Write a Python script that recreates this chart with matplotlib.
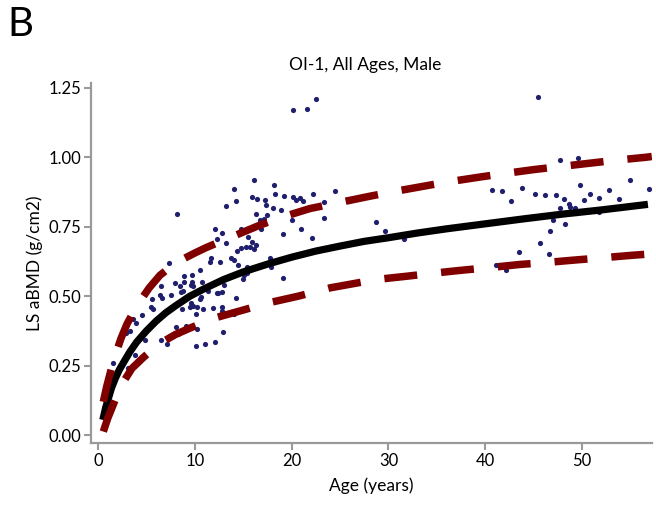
import matplotlib
matplotlib.use("Agg")
import matplotlib.pyplot as plt

plt.rcParams["font.family"] = ["Lato", "DejaVu Sans"]

# ── scatter data (age in years, LS aBMD g/cm2) ──
age = [
    1.6, 3.1, 3.8, 2.9, 3.3, 3.6, 3.9, 4.5, 4.9, 5.5, 5.65, 5.6, 6.4, 6.6, 6.5, 7.1, 6.5, 7.5, 7.3, 8.2,
    8.0, 8.5, 8.6, 8.9, 9.7, 8.9, 9.7, 10.5, 9.6, 10.7, 9.8, 8.8, 11.4, 12.4, 12.8, 13.05, 14.3, 15.0,
    15.1, 15.4, 15.4, 14.5, 11.7, 11.6, 12.6, 13.7, 14.0, 8.7, 9.5, 9.8, 10.2, 10.8, 10.1, 9.6, 10.5,
    10.6, 11.85, 12.8, 12.8, 14.0, 8.1, 9.1, 10.2, 8.3, 10.1, 11.1, 12.1, 12.9, 12.3,
    12.05, 12.8, 12.3, 13.2, 13.2, 14.1, 14.3, 14.8, 15.5, 15.9, 14.4, 14.8, 15.3, 15.7, 16.1, 16.3,
    16.1, 15.9, 16.4, 17.2, 17.4, 16.3, 17.5, 16.7, 17.1, 16.8, 18.2, 18.3, 19.2, 18.1, 18.9, 17.8,
    17.9, 19.1, 19.1, 20.0, 20.1, 20.5, 20.9, 21.2, 22.2, 21.0, 22.1, 22.3, 23.3, 23.3, 24.5, 20.1,
    21.6, 22.5,
    28.7, 29.6, 31.6, 40.7, 41.7, 42.7, 43.8, 45.1, 46.2, 47.3, 48.1, 47.7, 48.7, 48.8, 49.3, 49.8,
    50.2, 50.8, 51.7, 52.8, 53.8, 55.0, 56.9, 51.8, 47.0, 48.2, 46.7, 45.7, 43.5, 46.6, 41.1, 42.1,
    45.5, 47.7, 49.6,
]
bmd = [
    0.26, 0.24, 0.29, 0.369, 0.374, 0.418, 0.403, 0.431, 0.341, 0.46, 0.453, 0.491, 0.504, 0.494,
    0.342, 0.327, 0.535, 0.505, 0.62, 0.795,
    0.546, 0.536, 0.516, 0.552, 0.552, 0.572, 0.576, 0.594, 0.54, 0.55, 0.536, 0.519, 0.518, 0.51,
    0.516, 0.54, 0.492, 0.562, 0.576, 0.582, 0.606, 0.612, 0.636, 0.622, 0.621, 0.636, 0.63, 0.452,
    0.462, 0.464, 0.462, 0.455, 0.434, 0.476, 0.488, 0.498, 0.456, 0.462, 0.447, 0.436, 0.388,
    0.392, 0.381, 0.364, 0.321, 0.327, 0.336, 0.372, 0.512,
    0.742, 0.728, 0.704, 0.69, 0.824, 0.885, 0.843, 0.743, 0.712, 0.695, 0.663, 0.674, 0.678, 0.675,
    0.668, 0.684, 0.917, 0.858, 0.848, 0.845, 0.829, 0.795, 0.793, 0.775, 0.776, 0.741, 0.90, 0.867,
    0.86, 0.817, 0.81, 0.636, 0.606, 0.565, 0.724, 0.772, 0.858, 0.846, 0.853, 0.843, 0.869, 0.741,
    0.708, 0.816, 0.838, 0.78, 0.878, 1.168, 1.173, 1.21,
    0.765, 0.735, 0.704, 0.881, 0.877, 0.843, 0.889, 0.866, 0.862, 0.862, 0.848, 0.818, 0.831,
    0.821, 0.818, 0.899, 0.845, 0.867, 0.852, 0.881, 0.85, 0.918, 0.886, 0.803, 0.774, 0.76, 0.736,
    0.69, 0.658, 0.651, 0.612, 0.593, 1.216, 0.989, 0.998,
]

# ── fitted curve (black) ──
fit_age = [0.5, 0.8, 1.1, 1.4, 1.8, 2.2, 2.7, 3.3, 4.0, 5.0, 6.0, 7.0, 8.0, 9.5, 11, 13, 15,
           17.5, 20, 22.5, 25, 27.5, 30, 33, 36, 40, 44, 48, 52, 56.8]
fit_bmd = [0.055, 0.10, 0.135, 0.17, 0.205, 0.235, 0.265, 0.30, 0.335, 0.375, 0.41, 0.44, 0.465,
           0.50, 0.527, 0.56, 0.587, 0.615, 0.64, 0.662, 0.68, 0.697, 0.71, 0.727, 0.742, 0.76,
           0.778, 0.795, 0.81, 0.83]

# ── upper / lower bands (dashed red) ──
upper_age = [0.55, 0.9, 1.2, 1.5, 1.8, 2.4, 3.0, 3.7, 4.3, 5.3, 6.4, 7.5, 8.6, 10.0, 11.2, 13.6,
             16.7, 19.1, 21.9, 24.7, 27.9, 30.4, 33.6, 36.0, 39.4, 41.8, 45.0, 47.5, 50.8, 53.3,
             56.5, 57.2]
upper_bmd = [0.12, 0.175, 0.215, 0.255, 0.29, 0.35, 0.40, 0.445, 0.48, 0.53, 0.575, 0.605, 0.63,
             0.655, 0.675, 0.71, 0.755, 0.785, 0.815, 0.835, 0.858, 0.875, 0.895, 0.91, 0.928,
             0.94, 0.955, 0.965, 0.978, 0.988, 0.999, 1.002]
lower_age = [0.55, 1.0, 1.58, 2.1, 2.6, 3.5, 4.7, 5.7, 6.7, 8.0, 9.5, 11.9, 15.0, 17.5, 20.7,
             24.0, 28.8, 32.0, 34.5, 37.8, 40.3, 43.6, 46.0, 49.3, 51.8, 55.2, 57.2]
lower_bmd = [0.013, 0.06, 0.11, 0.155, 0.19, 0.24, 0.28, 0.31, 0.336, 0.362, 0.385, 0.42, 0.45,
             0.475, 0.50, 0.53, 0.56, 0.572, 0.582, 0.594, 0.602, 0.614, 0.62, 0.63, 0.637,
             0.647, 0.652]

yticks = [0.0, 0.25, 0.5, 0.75, 1.0, 1.25]
xticks = [0, 10, 20, 30, 40, 50]

fig = plt.figure(figsize=(6.56, 5.13), dpi=100)
ax = fig.add_axes([0.1383, 0.1365, 0.994 - 0.1383, 0.838 - 0.1365])

ax.scatter(age, bmd, s=14, color="#1f1f6e", linewidths=0, zorder=2)
ax.plot(fit_age, fit_bmd, color="black", linewidth=5.2, solid_capstyle="butt",
        solid_joinstyle="round", zorder=3)
for xs, ys in [(upper_age, upper_bmd), (lower_age, lower_bmd)]:
    ax.plot(xs, ys, color="#800000", linewidth=5.4, linestyle=(0, (4.4, 3.2)),
            dash_capstyle="butt", dash_joinstyle="round", zorder=4)

ax.set_xlim(-0.75, 57.23)
ax.set_ylim(-0.028, 1.266)
ax.set_xticks(xticks)
ax.set_yticks(yticks)
ax.set_yticklabels([f"{v:.2f}" for v in yticks])

grey = "#9a9a9a"
for side in ["top", "right"]:
    ax.spines[side].set_visible(False)
for side in ["left", "bottom"]:
    ax.spines[side].set_color(grey)
    ax.spines[side].set_linewidth(1.6)
ax.tick_params(axis="both", colors=grey, length=5, width=1.5, labelsize=12,
               labelcolor="black", pad=2)

ax.set_xlabel("Age (years)", fontsize=12.5, labelpad=6)
ax.set_ylabel("LS aBMD (g/cm2)", fontsize=12.5)
fig.text(0.556, 0.873, "OI-1, All Ages, Male", ha="center", va="center", fontsize=12.5)
fig.text(0.012, 0.952, "B", ha="left", va="center", fontsize=29)

fig.savefig("out.png", dpi=100)
